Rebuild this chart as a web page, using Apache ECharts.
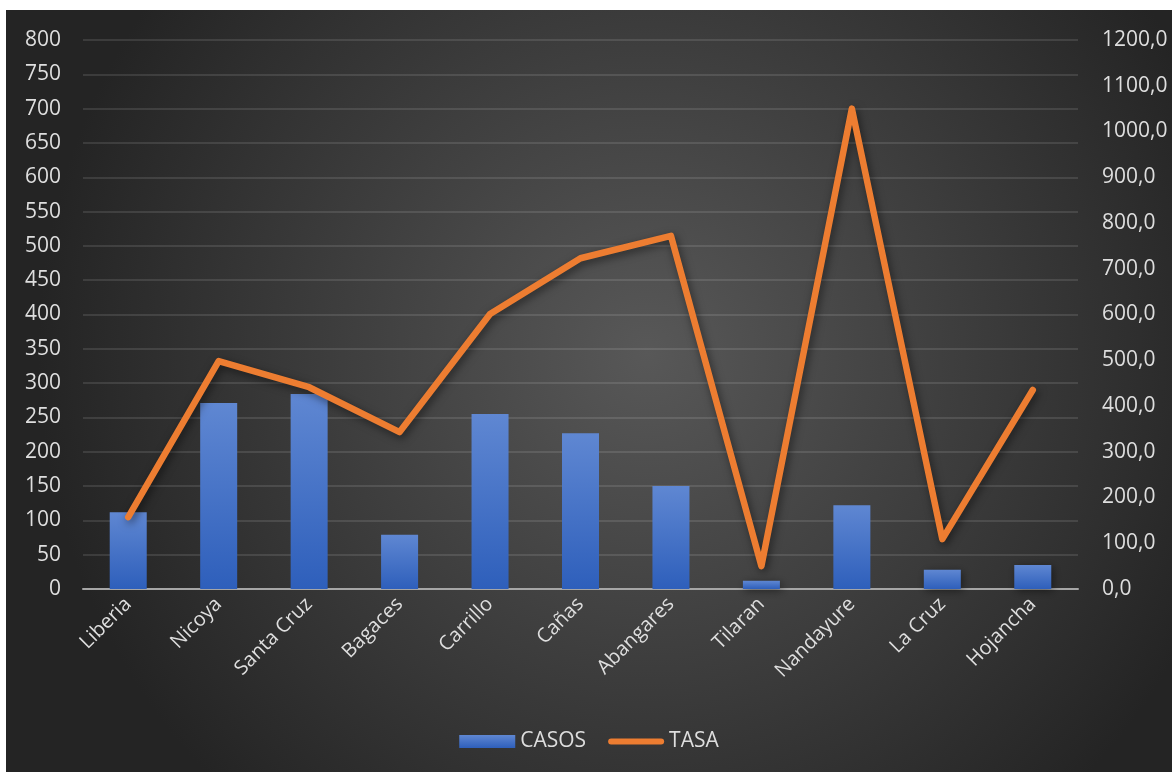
<!DOCTYPE html>
<html>
<head>
<meta charset="utf-8">
<script src="https://cdn.jsdelivr.net/npm/echarts@6/dist/echarts.min.js"></script>
<style>
  html, body { margin: 0; padding: 0; background: #ffffff; }
  #chart { position: absolute; left: 6px; top: 10px; width: 1166px; height: 762px; }
</style>
</head>
<body>
<div id="chart"></div>
<script>
// Cantones de Guanacaste
const cantones = ['Liberia', 'Nicoya', 'Santa Cruz', 'Bagaces', 'Carrillo', 'Cañas',
  'Abangares', 'Tilaran', 'Nandayure', 'La Cruz', 'Hojancha'];
// Número de casos por cantón
const casos = [112, 271, 284, 79, 255, 227, 150, 12, 122, 28, 35];
// Tasa por cantón
const tasa = [157, 498, 441, 343, 601, 723, 772, 50, 1050, 109, 435];

const textColor = '#dedede';
const fontFamily = '"Open Sans", "Noto Sans", sans-serif';

// Thin rounded stroke for the line legend entry (padded to the full icon box)
const lineIcon = 'path://M0,0 M56,13 M3,3.5 L53,3.5 A3,3 0 0 1 53,9.5 L3,9.5 A3,3 0 0 1 3,3.5 Z';

const chart = echarts.init(document.getElementById('chart'));
chart.setOption({
  backgroundColor: {
    type: 'radial', x: 0.55, y: 0.45, r: 0.8,
    colorStops: [
      { offset: 0, color: '#585858' },
      { offset: 1, color: '#242424' }
    ]
  },
  textStyle: { fontFamily: fontFamily },
  legend: {
    bottom: 15,
    left: 'center',
    itemGap: 22,
    itemWidth: 56,
    itemHeight: 13,
    textStyle: { color: textColor, fontSize: 21, fontFamily: fontFamily },
    data: [
      { name: 'CASOS', icon: 'rect' },
      { name: 'TASA', icon: lineIcon, itemStyle: { color: '#ed7d31', borderWidth: 0 } }
    ]
  },
  grid: { left: 77, right: 94, top: 30, bottom: 183 },
  xAxis: {
    type: 'category',
    data: cantones,
    axisLine: { lineStyle: { color: '#a6a6a6', width: 2 } },
    axisTick: { show: false },
    axisLabel: {
      color: textColor, fontSize: 20, rotate: 45, margin: 12,
      fontFamily: fontFamily, interval: 0
    }
  },
  yAxis: [
    {
      type: 'value', min: 0, max: 800, interval: 50,
      axisLine: { show: false }, axisTick: { show: false },
      axisLabel: { color: textColor, fontSize: 21, margin: 22, fontFamily: fontFamily },
      splitLine: { lineStyle: { color: 'rgba(255,255,255,0.11)', width: 2 } }
    },
    {
      type: 'value', min: 0, max: 1200, interval: 100,
      axisLine: { show: false }, axisTick: { show: false },
      axisLabel: {
        color: textColor, fontSize: 21, margin: 24, fontFamily: fontFamily,
        formatter: v => v.toFixed(1).replace('.', ',')
      },
      splitLine: { show: false }
    }
  ],
  series: [
    {
      name: 'CASOS',
      type: 'bar',
      yAxisIndex: 0,
      barWidth: 37,
      data: casos,
      itemStyle: {
        color: {
          type: 'linear', x: 0, y: 0, x2: 0, y2: 1,
          colorStops: [
            { offset: 0, color: '#5f87d2' },
            { offset: 1, color: '#2e5fbb' }
          ]
        },
        shadowColor: 'rgba(0,0,0,0.45)',
        shadowBlur: 8,
        shadowOffsetX: 2,
        shadowOffsetY: 2
      }
    },
    {
      name: 'TASA',
      type: 'line',
      yAxisIndex: 1,
      data: tasa,
      symbol: 'none',
      lineStyle: {
        color: '#ed7d31',
        width: 6.5,
        cap: 'round',
        join: 'round',
        shadowColor: 'rgba(0,0,0,0.5)',
        shadowBlur: 8,
        shadowOffsetX: 2,
        shadowOffsetY: 3
      },
      itemStyle: { color: '#ed7d31' },
      z: 3
    }
  ]
});
</script>
</body>
</html>
